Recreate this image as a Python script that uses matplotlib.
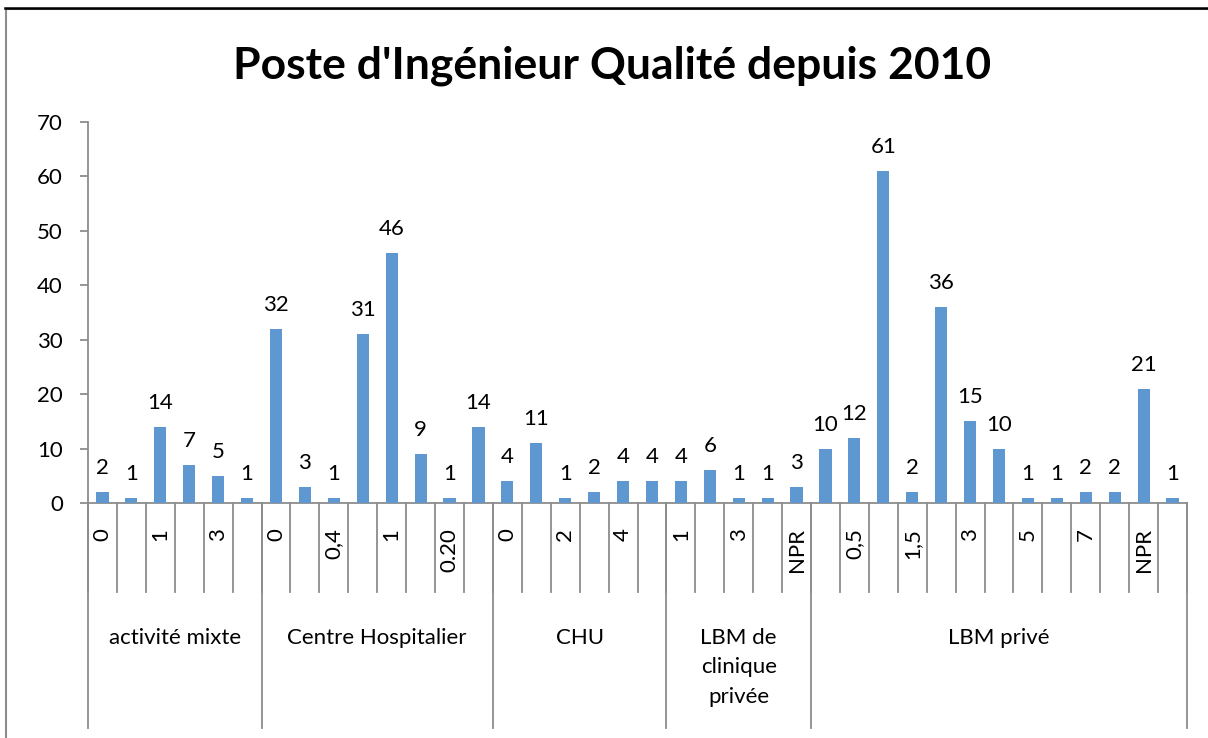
import matplotlib.pyplot as plt
from matplotlib.patches import Rectangle
from matplotlib.lines import Line2D
import numpy as np

plt.rcParams['font.family'] = ['Lato', 'DejaVu Sans']

# ---- data ----
groups = ['activité mixte', 'Centre Hospitalier', 'CHU', 'LBM de\nclinique\nprivée', 'LBM privé']

mixte_vals = [2, 1, 14, 7, 5, 1]
ch_vals = [32, 3, 1, 31, 46, 9, 1, 14]
chu_vals = [4, 11, 1, 2, 4, 4]
clinique_vals = [4, 6, 1, 1, 3]
prive_vals = [10, 12, 61, 2, 36, 15, 10, 1, 1, 2, 2, 21, 1]

# only every other label is readable in the original
mixte_labels = ['0', '', '1', '', '3', '']
ch_labels = ['0', '', '0,4', '', '1', '', '0.20', '']
chu_labels = ['0', '', '2', '', '4', '']
clinique_labels = ['1', '', '3', '', 'NPR']
prive_labels = ['', '0,5', '', '1,5', '', '3', '', '5', '', '7', '', 'NPR', '']

group_vals = [mixte_vals, ch_vals, chu_vals, clinique_vals, prive_vals]
values = sum(group_vals, [])
labels = mixte_labels + ch_labels + chu_labels + clinique_labels + prive_labels
sizes = [len(g) for g in group_vals]

# ---- plot ----
W, H = 1208, 738
fig = plt.figure(figsize=(W / 100, H / 100), dpi=100)
ax = fig.add_axes([88 / W, 1 - 503 / H, (1187 - 88) / W, (503 - 122) / H])

FS = 16
x = np.arange(len(values))
bar_color = '#5F97D0'
bars = ax.bar(x, values, width=0.42, color=bar_color, zorder=3)

for b, v in zip(bars, values):
    ax.annotate(str(v), (b.get_x() + b.get_width() / 2, v), xytext=(0, 10),
                textcoords='offset points', ha='center', va='bottom', fontsize=FS)

ax.set_xlim(-0.5, len(values) - 0.5)
ax.set_ylim(0, 70)
ax.set_yticks(range(0, 71, 10))

grey = '#8c8c8c'
for s in ['top', 'right']:
    ax.spines[s].set_visible(False)
ax.spines['left'].set_color(grey)
ax.spines['bottom'].set_color(grey)
ax.spines['left'].set_linewidth(1.3)
ax.spines['bottom'].set_linewidth(1.3)
ax.tick_params(axis='y', length=6, width=1.3, color=grey, labelsize=FS, pad=12)

ax.set_xticks(x)
ax.set_xticklabels(labels, rotation=90, fontsize=FS, va='top')
ax.tick_params(axis='x', length=0, pad=18)

# category separators
trans = ax.get_xaxis_transform()
for i in range(len(values) + 1):
    ax.add_line(Line2D([i - 0.5, i - 0.5], [0, -0.234], transform=trans,
                       color=grey, lw=1.3, clip_on=False))

start = 0
bounds = [0]
for n in sizes:
    start += n
    bounds.append(start)
for b in bounds:
    ax.add_line(Line2D([b - 0.5, b - 0.5], [0, -0.591], transform=trans,
                       color=grey, lw=1.3, clip_on=False))

for g, a, b in zip(groups, bounds[:-1], bounds[1:]):
    ax.text((a + b - 1) / 2, -0.327, g, transform=trans, ha='center', va='top',
            fontsize=FS, linespacing=1.6)

fig.suptitle("Poste d'Ingénieur Qualité depuis 2010", fontsize=32, fontweight='bold',
             x=612 / W, y=1 - 45 / H, va='top')

# chart area border
fig.patches.append(Rectangle((6 / W, -0.05), 1.2, 1.05 - 9 / H, transform=fig.transFigure,
                             fill=False, edgecolor=grey, lw=1.5))
fig.add_artist(Line2D([5 / W, 1], [1 - 7.5 / H, 1 - 7.5 / H], transform=fig.transFigure,
                      color='black', lw=1.8))

fig.savefig('out.png', dpi=100)
